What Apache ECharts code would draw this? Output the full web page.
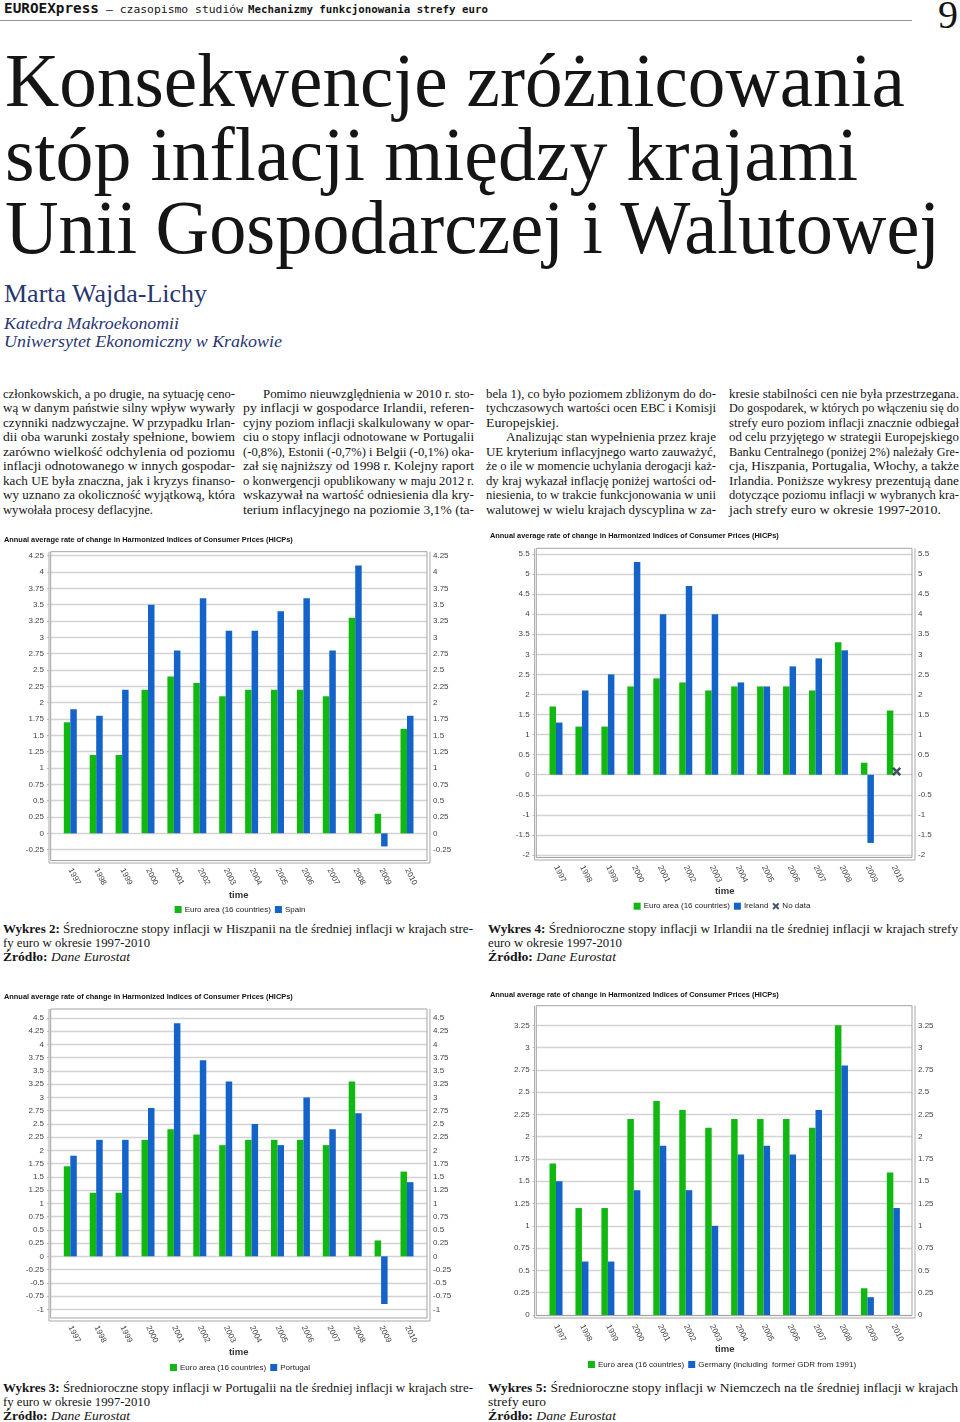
<!DOCTYPE html>
<html><head><meta charset="utf-8">
<script src="https://cdn.jsdelivr.net/npm/echarts@6/dist/echarts.min.js"></script>
<style>
html,body{margin:0;padding:0;}
body{width:960px;height:1422px;position:relative;background:#fff;overflow:hidden;font-family:'Liberation Serif',serif;color:#151515;}
.a{position:absolute;white-space:pre;}
.a>span{display:inline-block;transform-origin:0 0;white-space:pre;}
.mono{font-family:'DejaVu Sans Mono',monospace;}
.body{font-size:12.5px;line-height:12.5px;}
.cap{font-size:12.5px;line-height:12.5px;}
.ch{position:absolute;}
</style></head>
<body>
<!-- header -->
<div class="a mono" style="left:4px;top:0.7px;font-size:14.5px;line-height:14.5px;font-weight:bold"><span data-w="95">EUROEXpress</span></div>
<div class="a mono" style="left:106px;top:3.7px;font-size:11px;line-height:11px"><span data-w="137">– czasopismo studiów</span></div>
<div class="a mono" style="left:248px;top:3.7px;font-size:11px;line-height:11px;font-weight:bold"><span data-w="240">Mechanizmy funkcjonowania strefy euro</span></div>
<div style="position:absolute;left:0;top:20px;width:912px;height:1px;background:#8c96a8"></div>
<div class="a" style="left:938px;top:-5.5px;font-size:40px;line-height:40px"><span data-w="20">9</span></div>

<!-- title -->
<div class="a" style="left:5px;top:41.5px;font-size:77px;line-height:77px"><span data-w="900">Konsekwencje zróżnicowania</span></div>
<div class="a" style="left:5px;top:115.5px;font-size:77px;line-height:77px"><span data-w="853">stóp inflacji między krajami</span></div>
<div class="a" style="left:5px;top:188.5px;font-size:77px;line-height:77px"><span data-w="935">Unii Gospodarczej i Walutowej</span></div>

<div class="a" style="left:4px;top:281.2px;font-size:26px;line-height:26px;color:#283570"><span data-w="203">Marta Wajda-Lichy</span></div>
<div class="a" style="left:4px;top:315.6px;font-size:16px;line-height:16px;color:#283570;font-style:italic"><span data-w="175">Katedra Makroekonomii</span></div>
<div class="a" style="left:4px;top:333.6px;font-size:16px;line-height:16px;color:#283570;font-style:italic"><span data-w="278">Uniwersytet Ekonomiczny w Krakowie</span></div>

<div id="bodytext"></div>
<div id="captions"></div>

<div id="c1" class="ch" style="left:0;top:530px;width:480px;height:390px"></div>
<div id="c2" class="ch" style="left:484px;top:530px;width:476px;height:390px"></div>
<div id="c3" class="ch" style="left:0;top:990px;width:480px;height:390px"></div>
<div id="c4" class="ch" style="left:484px;top:990px;width:476px;height:390px"></div>

<script>
// ---------------- DATA ----------------
const years = ['1997','1998','1999','2000','2001','2002','2003','2004','2005','2006','2007','2008','2009','2010'];
const euroArea = [1.7, 1.2, 1.2, 2.2, 2.4, 2.3, 2.1, 2.2, 2.2, 2.2, 2.1, 3.3, 0.3, 1.6];
const spain    = [1.9, 1.8, 2.2, 3.5, 2.8, 3.6, 3.1, 3.1, 3.4, 3.6, 2.8, 4.1, -0.2, 1.8];
const ireland  = [1.3, 2.1, 2.5, 5.3, 4.0, 4.7, 4.0, 2.3, 2.2, 2.7, 2.9, 3.1, -1.7, null];
const irelandNoData = [null, null, null, null, null, null, null, null, null, null, null, null, null, 0.08];
const portugal = [1.9, 2.2, 2.2, 2.8, 4.4, 3.7, 3.3, 2.5, 2.1, 3.0, 2.4, 2.7, -0.9, 1.4];
const germany  = [1.5, 0.6, 0.6, 1.4, 1.9, 1.4, 1.0, 1.8, 1.9, 1.8, 2.3, 2.8, 0.2, 1.2];
// axis ranges: [min, max, interval]
const spainAxis    = [-0.25, 4.25, 0.25];
const irelandAxis  = [-2, 5.5, 0.5];
const portugalAxis = [-1, 4.5, 0.25];
const germanyAxis  = [0, 3.25, 0.25];
const chartTitle = 'Annual average rate of change in Harmonized Indices of Consumer Prices (HICPs)';
const euroName = 'Euro area (16 countries)';
const timeName = 'time';

// ---------------- TEXT ----------------
const columns = [
  {x:3, w:232, lines:[
    ['członkowskich, a po drugie, na sytuację ceno-'],
    ['wą w danym państwie silny wpływ wywarły'],
    ['czynniki nadzwyczajne. W przypadku Irlan-'],
    ['dii oba warunki zostały spełnione, bowiem'],
    ['zarówno wielkość odchylenia od poziomu'],
    ['inflacji odnotowanego w innych gospodar-'],
    ['kach UE była znaczna, jak i kryzys finanso-'],
    ['wy uznano za okoliczność wyjątkową, która'],
    ['wywołała procesy deflacyjne.', 0, 150]
  ]},
  {x:243, w:231, lines:[
    ['Pomimo nieuwzględnienia w 2010 r. sto-', 20],
    ['py inflacji w gospodarce Irlandii, referen-'],
    ['cyjny poziom inflacji skalkulowany w opar-'],
    ['ciu o stopy inflacji odnotowane w Portugalii'],
    ['(-0,8%), Estonii (-0,7%) i Belgii (-0,1%) oka-'],
    ['zał się najniższy od 1998 r. Kolejny raport'],
    ['o konwergencji opublikowany w maju 2012 r.'],
    ['wskazywał na wartość odniesienia dla kry-'],
    ['terium inflacyjnego na poziomie 3,1% (ta-']
  ]},
  {x:486, w:230, lines:[
    ['bela 1), co było poziomem zbliżonym do do-'],
    ['tychczasowych wartości ocen EBC i Komisji'],
    ['Europejskiej.', 0, 73],
    ['Analizując stan wypełnienia przez kraje', 20],
    ['UE kryterium inflacyjnego warto zauważyć,'],
    ['że o ile w momencie uchylania derogacji każ-'],
    ['dy kraj wykazał inflację poniżej wartości od-'],
    ['niesienia, to w trakcie funkcjonowania w unii'],
    ['walutowej w wielu krajach dyscyplina w za-']
  ]},
  {x:729, w:230, lines:[
    ['kresie stabilności cen nie była przestrzegana.'],
    ['Do gospodarek, w których po włączeniu się do'],
    ['strefy euro poziom inflacji znacznie odbiegał'],
    ['od celu przyjętego w strategii Europejskiego'],
    ['Banku Centralnego (poniżej 2%) należały Gre-'],
    ['cja, Hiszpania, Portugalia, Włochy, a także'],
    ['Irlandia. Poniższe wykresy prezentują dane'],
    ['dotyczące poziomu inflacji w wybranych kra-'],
    ['jach strefy euro w okresie 1997-2010.', 0, 212]
  ]}
];
const captions = [
  {x:3, b:933, lines:[
    ['<b>Wykres 2:</b> Średnioroczne stopy inflacji w Hiszpanii na tle średniej inflacji w krajach stre-', 470],
    ['fy euro w okresie 1997-2010', 147],
    ['<b>Źródło:</b> <i>Dane Eurostat</i>', 127]]},
  {x:488, b:933, lines:[
    ['<b>Wykres 4:</b> Średnioroczne stopy inflacji w Irlandii na tle średniej inflacji w krajach strefy', 470],
    ['euro w okresie 1997-2010', 134],
    ['<b>Źródło:</b> <i>Dane Eurostat</i>', 128]]},
  {x:3, b:1392, lines:[
    ['<b>Wykres 3:</b> Średnioroczne stopy inflacji w Portugalii na tle średniej inflacji w krajach stre-', 470],
    ['fy euro w okresie 1997-2010', 147],
    ['<b>Źródło:</b> <i>Dane Eurostat</i>', 127]]},
  {x:488, b:1392, lines:[
    ['<b>Wykres 5:</b> Średnioroczne stopy inflacji w Niemczech na tle średniej inflacji w krajach', 470],
    ['strefy euro', 58],
    ['<b>Źródło:</b> <i>Dane Eurostat</i>', 128]]}
];

(function buildText(){
  const bt = document.getElementById('bodytext');
  let html = '';
  const F = 12.5, asc = 0.8375;
  columns.forEach(col => {
    col.lines.forEach((ln, i) => {
      const base = 398 + 14.55 * i;
      const indent = ln[1] || 0;
      const w = ln[2] || (col.w - indent);
      html += `<div class="a body" style="left:${col.x + indent}px;top:${(base - asc*F).toFixed(2)}px"><span data-w="${w}">${ln[0]}</span></div>`;
    });
  });
  bt.innerHTML = html;
  const cp = document.getElementById('captions');
  let h2 = '';
  captions.forEach(c => {
    c.lines.forEach((ln, i) => {
      const base = c.b + 14.3 * i;
      h2 += `<div class="a cap" style="left:${c.x}px;top:${(base - asc*F).toFixed(2)}px"><span data-w="${ln[1]}">${ln[0]}</span></div>`;
    });
  });
  cp.innerHTML = h2;
})();

function fitAll(){
  document.querySelectorAll('[data-w]').forEach(el => {
    el.style.transform = 'none';
    const w = parseFloat(el.dataset.w);
    const a = el.getBoundingClientRect().width;
    if (a > 0) el.style.transform = `scaleX(${(w / a).toFixed(4)})`;
  });
}
fitAll();
if (document.fonts && document.fonts.ready) document.fonts.ready.then(fitAll);

// ---------------- CHARTS ----------------
const GREEN = '#12b812';
const BLUE = '#1463c9';
const X_PATH = 'path://M2,0 L5,3 L8,0 L10,2 L7,5 L10,8 L8,10 L5,7 L2,10 L0,8 L3,5 L0,2 Z';
const SANS = 'Liberation Sans';

function makeChart(id, L, axisRange, countryName, countryData, extra) {
  const el = document.getElementById(id);
  const chart = echarts.init(el, null, {renderer: 'canvas'});
  const gh = L.yBot - L.yTop;
  const axisLabelStyle = {fontFamily: SANS, fontSize: 8, color: '#444'};
  const yBase = {type: 'value', min: axisRange[0], max: axisRange[1], interval: axisRange[2]};
  const series = [
    {name: euroName, type: 'bar', xAxisIndex: 1, yAxisIndex: 2, data: euroArea,
     barWidth: 6.5, barGap: '0%', itemStyle: {color: GREEN}},
    {name: countryName, type: 'bar', xAxisIndex: 1, yAxisIndex: 2, data: countryData,
     barWidth: 6.5, barGap: '0%', itemStyle: {color: BLUE}}
  ];
  const legendData = [{name: euroName}, {name: countryName}];
  if (extra) {
    series.push({name: extra.name, type: 'scatter', xAxisIndex: 1, yAxisIndex: 2, data: extra.data,
      symbol: X_PATH, symbolSize: 9, symbolOffset: [3.3, 0], itemStyle: {color: '#16233f'}, z: 5});
    legendData.push({name: extra.name, icon: X_PATH});
  }
  const cx = L.c0 + 6.5 * L.sp;
  chart.setOption({
    animation: false,
    title: {text: chartTitle, left: L.tx, top: L.ty - 4.5, padding: 0,
      textStyle: {fontFamily: SANS, fontSize: 7.4, fontWeight: 'bold', color: '#111'}},
    legend: {top: L.legY - 4.5, left: 'center', padding: 0, itemWidth: 7, itemHeight: 7, itemGap: 4,
      icon: 'rect', data: legendData, selectedMode: false,
      textStyle: {fontFamily: SANS, fontSize: 8, color: '#222', padding: [0, 0, 0, -2]}},
    grid: [
      {left: L.fL, top: L.yTop, width: L.fR - L.fL, height: gh},
      {left: L.c0 - L.sp / 2, top: L.yTop, width: L.sp * 14, height: gh}
    ],
    xAxis: [
      {type: 'category', gridIndex: 0, data: years, show: false},
      {type: 'category', gridIndex: 1, data: years,
       axisLine: {show: false}, axisTick: {show: false}, splitLine: {show: false},
       axisLabel: {interval: 0, rotate: -63, margin: L.lm, fontFamily: SANS, fontSize: 8, color: '#444'}}
    ],
    yAxis: [
      Object.assign({}, yBase, {gridIndex: 0, position: 'left', offset: 1.7,
        axisLine: {show: false}, axisTick: {show: true, length: 2, lineStyle: {color: '#bbb'}},
        axisLabel: Object.assign({}, axisLabelStyle, {margin: 5}),
        splitLine: {show: true, lineStyle: {color: '#d3d3d3', width: 1.3}}}),
      Object.assign({}, yBase, {gridIndex: 0, position: 'right', offset: 3,
        axisLine: {show: false}, axisTick: {show: false},
        axisLabel: Object.assign({}, axisLabelStyle, {margin: 3}),
        splitLine: {show: false}}),
      Object.assign({}, yBase, {gridIndex: 1, show: false})
    ],
    graphic: [
      {type: 'rect', silent: true, z: 100, shape: {x: L.fL, y: L.fT, width: L.fR - L.fL, height: L.fB - L.fT},
       style: {fill: null, stroke: '#a3a3a3', lineWidth: 1}},
      {type: 'line', silent: true, z: 100, shape: {x1: L.fL - 1.7, y1: L.fT, x2: L.fL - 1.7, y2: L.axY},
       style: {stroke: '#a8a8a8', lineWidth: 1}},
      {type: 'line', silent: true, z: 100, shape: {x1: L.fR + 3, y1: L.fT, x2: L.fR + 3, y2: L.axY},
       style: {stroke: '#a8a8a8', lineWidth: 1}},
      {type: 'line', silent: true, z: 100, shape: {x1: L.fL - 1.7, y1: L.axY, x2: L.fR + 3, y2: L.axY},
       style: {stroke: '#a8a8a8', lineWidth: 1.2}},
      {type: 'text', silent: true, z: 100, x: cx, y: L.timeY,
       style: {text: timeName, font: 'bold 9.5px "Liberation Sans"', fill: '#333', align: 'center', verticalAlign: 'middle'}}
    ],
    series: series
  });
  return chart;
}

const layoutA = {fL: 50.7, fR: 427, c0: 70.3, sp: 25.9, tx: 4};
const layoutB = {fL: 52.3, fR: 428, c0: 72, sp: 25.95, tx: 6};

makeChart('c1', Object.assign({}, layoutA, {fT: 21.7, fB: 330.5, axY: 333, yTop: 25.7, yBot: 319.7, lm: 19, timeY: 365, legY: 380, ty: 11}),
  spainAxis, 'Spain', spain);
makeChart('c2', Object.assign({}, layoutB, {fT: 18.3, fB: 327.5, axY: 330, yTop: 24, yBot: 325, lm: 11, timeY: 361, legY: 376.7, ty: 7.3}),
  irelandAxis, 'Ireland', ireland, {name: 'No data', data: irelandNoData});
makeChart('c3', Object.assign({}, layoutA, {fT: 19, fB: 328, axY: 331, yTop: 28, yBot: 319.3, lm: 17, timeY: 362.3, legY: 378, ty: 8.3}),
  portugalAxis, 'Portugal', portugal);
makeChart('c4', Object.assign({}, layoutB, {fT: 15.7, fB: 325.5, axY: 328, yTop: 35.3, yBot: 325, lm: 10, timeY: 359.3, legY: 375, ty: 5.7}),
  germanyAxis, 'Germany (including  former GDR from 1991)', germany);
</script>
</body></html>
